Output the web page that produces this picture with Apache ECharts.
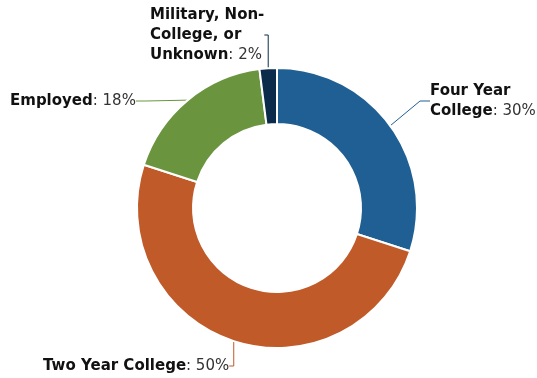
<!DOCTYPE html>
<html>
<head>
<meta charset="utf-8">
<script src="https://cdn.jsdelivr.net/npm/echarts@6/dist/echarts.min.js"></script>
<style>html,body{margin:0;padding:0;background:#fff}#c{width:537px;height:378px}</style>
</head>
<body>
<div id="c"></div>
<script>
var categories = ["Four Year College", "Two Year College", "Employed", "Military, Non-College, or Unknown"];
var labelNames = ["Four Year\nCollege", "Two Year College", "Employed", "Military, Non-\nCollege, or\nUnknown"];
var values = [30, 50, 18, 2];
var colors = ["#1F5F93", "#C05A29", "#6A953E", "#0C2B4A"];
var labelPos = [[430, 81], [43, 356], [10, 91], [150, 5]];

var chart = echarts.init(document.getElementById('c'), null, {renderer: 'canvas'});
var data = categories.map(function (c, i) {
  return {
    name: c,
    value: values[i],
    itemStyle: {color: colors[i]},
    labelLine: {lineStyle: {color: colors[i]}},
    label: {formatter: '{b|' + labelNames[i] + '}{v|: ' + values[i] + '%}'}
  };
});
chart.setOption({
  animation: false,
  series: [{
    type: 'pie',
    center: [277, 208],
    radius: [84, 140],
    startAngle: 90,
    clockwise: true,
    data: data,
    itemStyle: {borderColor: '#fff', borderWidth: 2},
    label: {
      show: true,
      position: 'outside',
      rich: {
        b: {fontFamily: 'DejaVu Sans', fontWeight: 'bold', fontSize: 15, color: '#111', lineHeight: 20},
        v: {fontFamily: 'DejaVu Sans', fontSize: 15, color: '#333', lineHeight: 20}
      }
    },
    labelLine: {show: true, length: 15, length2: 10, lineStyle: {width: 1}},
    labelLayout: function (params) {
      var p = labelPos[params.dataIndex];
      return {x: p[0], y: p[1], align: 'left', verticalAlign: 'top'};
    }
  }]
});
</script>
</body>
</html>
